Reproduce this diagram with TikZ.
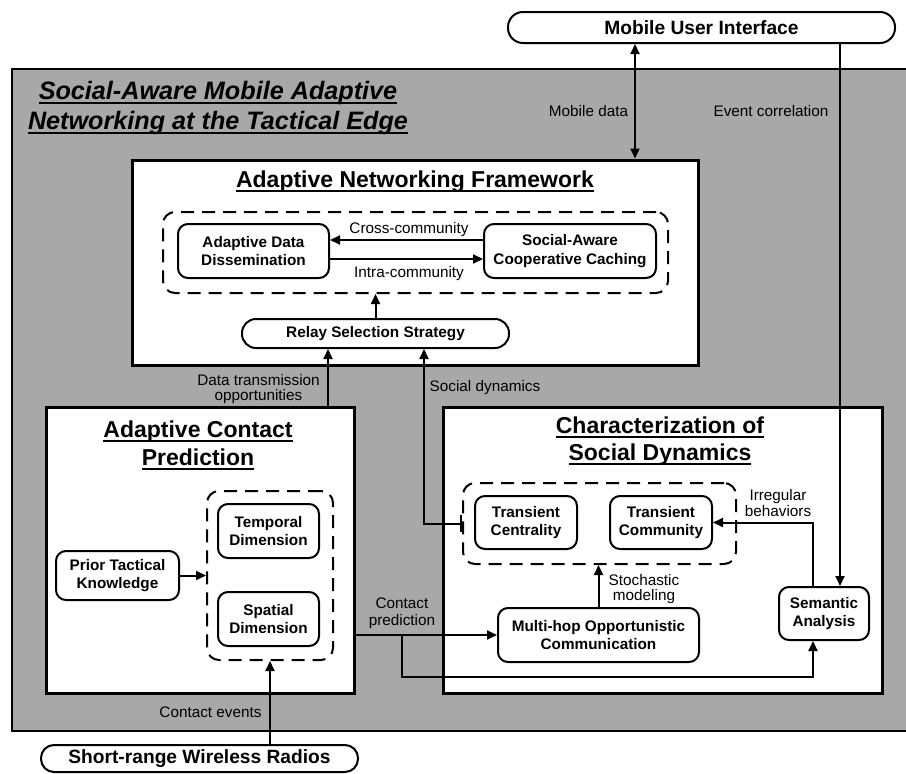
\documentclass[tikz,border=0pt]{standalone}
\usepackage{fontspec}
\setmainfont{Liberation Sans}
\usetikzlibrary{arrows.meta}
\definecolor{bggray}{RGB}{168,168,168}
\newsavebox\ulbox
\newcommand\ulx[1]{\sbox\ulbox{#1}\rlap{\rule[-4.8pt]{\wd\ulbox}{1.9pt}}\usebox\ulbox}
\newcommand\boxfont{\fontsize{15.3}{18.3}\selectfont\bfseries}
\newcommand\pillfont{\fontsize{19.2}{22}\selectfont\bfseries}
\newcommand\ttlfont{\fontsize{23}{27}\selectfont\bfseries}
\newcommand\bigttlfont{\fontsize{25.2}{30}\selectfont\bfseries\itshape}
\newcommand\lblfont{\fontsize{15.3}{15.5}\selectfont}
\begin{document}
\begin{tikzpicture}[x=1pt,y=-1pt,
  box/.style={draw, line width=2pt, rounded corners=10pt, fill=white, align=center, font=\boxfont, inner sep=0pt},
  pill/.style={draw, line width=2pt, fill=white, font=\pillfont, inner sep=0pt},
  frame/.style={draw, line width=3pt, fill=white, inner sep=0pt},
  grp/.style={draw, line width=2pt, dash pattern=on 13pt off 8pt, rounded corners=12pt, inner sep=0pt},
  lbl/.style={font=\lblfont, align=center, inner sep=0pt},
  ttl/.style={font=\ttlfont, inner sep=0pt, anchor=base},
  bigttl/.style={font=\bigttlfont, inner sep=0pt, anchor=base},
  tip/.tip={Triangle[length=10pt,width=9pt]},
  arr/.style={line width=2pt, -tip},
  arrb/.style={line width=2pt, tip-tip},
]
\useasboundingbox (0,0) rectangle (906,774);
% background region
\fill[bggray] (12,69) rectangle (906,731);
\draw[line width=1.5pt] (906,69) -- (12,69) -- (12,731) -- (906,731);

% outer title
\node[bigttl] (t1) at (218,99) {\ulx{Social-Aware Mobile Adaptive}};
\node[bigttl] (t2) at (218,129) {\ulx{Networking at the Tactical Edge}};

% Mobile User Interface
\node[pill, rounded corners=15pt, minimum width=387pt, minimum height=31pt] (mui) at (701.5,27.5) {Mobile User Interface};

% Adaptive Networking Framework
\node[frame, minimum width=566pt, minimum height=205pt] (anf) at (415,262.5) {};
\node[ttl] (anfT) at (415,187) {\ulx{Adaptive Networking Framework}};
\node[grp, minimum width=505pt, minimum height=81pt] (anfG) at (415.5,252.5) {};
\node[box, minimum width=151pt, minimum height=54pt] (add) at (253.5,251) {Adaptive Data\\Dissemination};
\node[box, minimum width=172pt, minimum height=54pt] (sacc) at (570,251) {Social-Aware\\Cooperative Caching};
\node[pill, rounded corners=14pt, font=\boxfont, minimum width=267pt, minimum height=29pt] (rss) at (375.5,333.5) {Relay Selection Strategy};

% Adaptive Contact Prediction
\node[frame, minimum width=308pt, minimum height=286pt] (acp) at (200,550) {};
\node[ttl] (acpT1) at (198,437) {\ulx{Adaptive Contact}};
\node[ttl] (acpT2) at (198,465) {\ulx{Prediction}};
\node[grp, minimum width=126pt, minimum height=169pt] (acpG) at (270,575.5) {};
\node[box, minimum width=101pt, minimum height=54pt] (temp) at (268.5,531) {Temporal\\Dimension};
\node[box, minimum width=101pt, minimum height=54pt] (spat) at (268.5,619) {Spatial\\Dimension};
\node[box, minimum width=123pt, minimum height=49pt] (ptk) at (117.5,575.5) {Prior Tactical\\Knowledge};

% Characterization of Social Dynamics
\node[frame, minimum width=439pt, minimum height=286pt] (csd) at (662.5,550) {};
\node[ttl] (csdT1) at (660,433) {\ulx{Characterization of}};
\node[ttl] (csdT2) at (660,460) {\ulx{Social Dynamics}};
\node[grp, minimum width=273pt, minimum height=81pt] (tcG) at (599.5,523.5) {};
\node[box, minimum width=102pt, minimum height=53pt] (tcen) at (526,522.5) {Transient\\Centrality};
\node[box, minimum width=102pt, minimum height=53pt] (tcom) at (661,522.5) {Transient\\Community};
\node[box, minimum width=201pt, minimum height=54pt] (mh) at (598.5,635) {Multi-hop Opportunistic\\Communication};
\node[box, minimum width=90pt, minimum height=53pt] (sa) at (824,613.5) {Semantic\\Analysis};

% Short-range Wireless Radios
\node[pill, rounded corners=13pt, minimum width=317pt, minimum height=27pt] (swr) at (199.5,758.5) {Short-range Wireless Radios};

% connectors
\draw[arr] ([yshift=11pt]sacc.west) -- ([yshift=11pt]add.east);
\draw[arr] ([yshift=-8pt]add.east) -- ([yshift=-8pt]sacc.west);
\node[lbl] (lcross) at (409,230) {Cross-community};
\node[lbl] (lintra) at (409,274) {Intra-community};
\draw[arr] (rss.north) -- (rss.north |- anfG.south);

\draw[arrb] ([xshift=-66.5pt]mui.south) -- ([xshift=-66.5pt]mui.south |- anf.north);
\node[lbl] (lmd) at (588.5,111.5) {Mobile data};
\draw[arr] ([xshift=138.5pt]mui.south) -- ([xshift=16pt]sa.north);
\node[lbl] (lec) at (771,111.5) {Event correlation};

\draw[arr] ([xshift=-47.5pt]rss.south |- acp.north) -- ([xshift=-47.5pt]rss.south);
\node[lbl] (ldt) at (258.5,389) {Data transmission\\opportunities};
\draw[line width=2pt, {Bar[width=17pt]}-tip] (tcG.west) -| ([xshift=48.5pt]rss.south);
\node[lbl] (lsd) at (485,388) {Social dynamics};

\draw[arr] (ptk.east) -- (acpG.west);
\draw[arr] (acpG.south |- swr.north) -- (acpG.south);
\node[lbl] (lce) at (210.5,712.5) {Contact events};

\coordinate (cpA) at (402,635);
\coordinate (cpB) at (402,677);
\draw[arr] (acp.east |- mh.west) -- (mh.west);
\draw[arr] (cpA) -- (cpB) -| ([xshift=-11pt]sa.south);
\node[lbl, font=\fontsize{15.3}{17}\selectfont] (lcp) at (402,613.5) {Contact\\prediction};

\draw[arr] (mh.north) -- (mh.north |- tcG.south);
\node[lbl] (lsm) at (644,589) {Stochastic\\modeling};
\draw[arr] ([xshift=-11pt]sa.north) |- (tcom.east);
\node[lbl] (lib) at (778,503) {Irregular\\behaviors};
\end{tikzpicture}
\end{document}
